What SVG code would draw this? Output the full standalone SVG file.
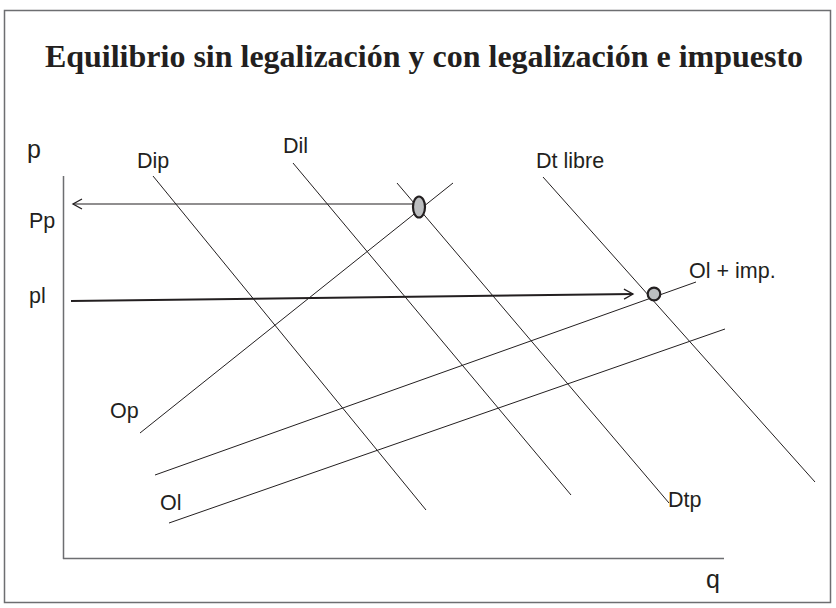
<svg xmlns="http://www.w3.org/2000/svg" width="836" height="608" viewBox="0 0 836 608">
<style>
.lbl{font-family:"Liberation Sans",Arial,sans-serif;font-size:21.5px;fill:#231f20}
.ax{font-family:"Liberation Sans",Arial,sans-serif;font-size:25px;fill:#231f20}
.ln{stroke:#231f20;stroke-width:1;fill:none}
.pt{fill:#bcbec0;stroke:#231f20;stroke-width:2.2}
</style>
<defs>
<marker id="open" markerWidth="12" markerHeight="12" refX="10" refY="6" orient="auto" markerUnits="userSpaceOnUse">
<path d="M1,1 L10,6 L1,11" fill="none" stroke="#231f20" stroke-width="1.3"/>
</marker>
</defs>
<rect x="4.5" y="10.5" width="826" height="592" fill="#fff" stroke="#6d6e71" stroke-width="1.5"/>
<text x="424" y="67" text-anchor="middle" font-family="'Liberation Serif','Times New Roman',serif" font-weight="bold" font-size="32" fill="#231f20">Equilibrio sin legalización y con legalización e impuesto</text>
<g id="axes">
<line x1="63.5" y1="176" x2="63.5" y2="559" stroke="#6d6e71" stroke-width="1.5"/>
<line x1="63" y1="558.5" x2="724" y2="558.5" stroke="#6d6e71" stroke-width="1.5"/>
<text class="ax" x="27" y="158">p</text>
<text class="ax" x="706" y="588">q</text>
</g>
<g id="connectors">
<line id="Dip" class="ln" x1="153" y1="176" x2="426" y2="510"/>
<line id="Dil" class="ln" x1="293" y1="163" x2="571" y2="495"/>
<line id="Dtp" class="ln" x1="397" y1="183" x2="669" y2="503"/>
<line id="Dtlibre" class="ln" x1="543" y1="177" x2="815" y2="482"/>
<line id="Op" class="ln" x1="140" y1="433" x2="453" y2="183"/>
<line id="Olimp" class="ln" x1="155" y1="475" x2="696" y2="282"/>
<line id="Ol" class="ln" x1="169" y1="523" x2="725" y2="329"/>
<line id="Pp-arrow" x1="413" y1="204" x2="73" y2="204" stroke="#231f20" stroke-width="1.2" marker-end="url(#open)"/>
<line id="pl-arrow" x1="71" y1="301" x2="633" y2="294" stroke="#231f20" stroke-width="2" marker-end="url(#open)"/>
</g>
<g id="eq-p"><ellipse class="pt" cx="419" cy="207" rx="6" ry="10.5"/></g>
<g id="eq-l"><circle class="pt" cx="654" cy="294" r="6.3"/></g>
<g id="labels">
<text class="lbl" x="29" y="228">Pp</text>
<text class="lbl" x="29" y="303">pl</text>
<text class="lbl" x="137" y="168">Dip</text>
<text class="lbl" x="283" y="153">Dil</text>
<text class="lbl" x="536" y="168">Dt libre</text>
<text class="lbl" x="689" y="278">Ol + imp.</text>
<text class="lbl" x="110" y="418">Op</text>
<text class="lbl" x="160" y="510">Ol</text>
<text class="lbl" x="668" y="507">Dtp</text>
</g>
</svg>
